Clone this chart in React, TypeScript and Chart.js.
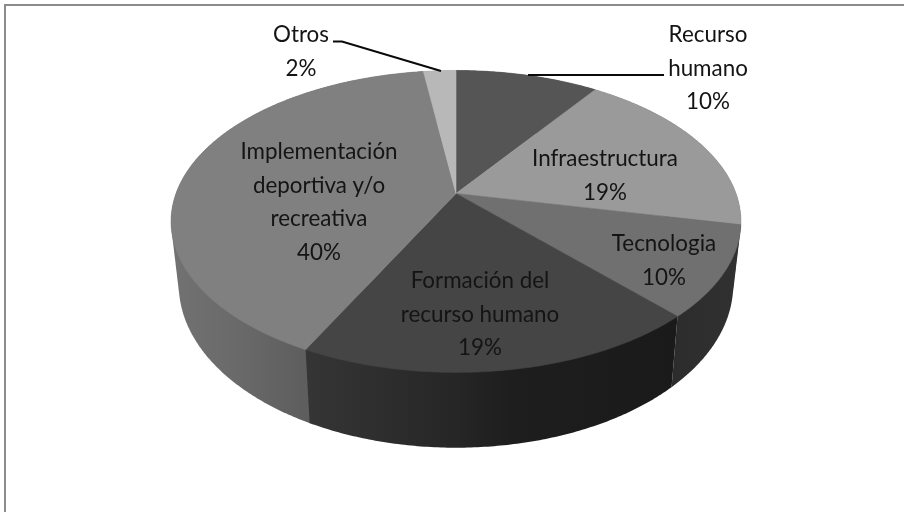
import React, { useEffect, useRef } from "react";
import { Chart, registerables } from "chart.js";

Chart.register(...registerables);

const categories = ["Recurso humano", "Infraestructura", "Tecnologia", "Formación del recurso humano", "Implementación deportiva y/o recreativa", "Otros"];
const values = [9.7, 18.6, 9.7, 19.4, 40.4, 2.2];
const percentLabels = ["10%", "19%", "10%", "19%", "40%", "2%"];
const topColors = ["#555555", "#9a9a9a", "#707070", "#454545", "#808080", "#b8b8b8"];

// Label text broken on lines the way the picture shows it, with placement
const labelLines = [["Recurso", "humano"], ["Infraestructura"], ["Tecnologia"], ["Formación del", "recurso humano"], ["Implementación", "deportiva y/o", "recreativa"], ["Otros"]];
const labelCenterX = [708, 605, 664, 480, 319, 301];
const labelFirstBaseline = [42, 166, 251, 288, 159, 42];
const LINE_STEP = 33.6;

const sideStops: [number, string][][] = [
  [[0, "#3a3a3a"], [1, "#3a3a3a"]],
  [[0, "#5a5a5a"], [1, "#5a5a5a"]],
  [[0, "#2c2c2c"], [1, "#313131"]],
  [[0, "#353535"], [0.2, "#2e2e2e"], [0.4, "#262626"], [0.55, "#1e1e1e"], [1, "#1a1a1a"]],
  [[0, "#727272"], [0.25, "#6a6a6a"], [0.52, "#5e5e5e"], [1, "#5e5e5e"]],
  [[0, "#777777"], [1, "#777777"]],
];
// back walls first, so the front walls cover them
const wallOrder = [4, 5, 0, 1, 2, 3];

// Perspective of the pie: apex, radius, foreshortening
const P = { cx: 456, cy: 193.5, R: 280, S: 145.8, k: 0.185 };
const BOTTOM = { sx: 0.973, sy: 1.08, dy: 61 };

type Pt = { x: number; y: number };
const project = (a: number): Pt => {
  const x = Math.cos(a), y = Math.sin(a);
  const w = 1 - P.k * y;
  return { x: P.cx + (P.R * x) / w, y: P.cy + (P.S * y) / w };
};
const lower = (p: Pt): Pt => ({
  x: P.cx + (p.x - P.cx) * BOTTOM.sx,
  y: P.cy + BOTTOM.dy + (p.y - P.cy) * BOTTOM.sy,
});
const rim = (a0: number, a1: number) => {
  const n = Math.max(2, Math.ceil(Math.abs(a1 - a0) / 0.01));
  return Array.from({ length: n + 1 }, (_, i) => project(a0 + ((a1 - a0) * i) / n));
};
const hull = (pts: Pt[]) => {
  const s = [...pts].sort((a, b) => a.x - b.x || a.y - b.y);
  const cross = (o: Pt, a: Pt, b: Pt) => (a.x - o.x) * (b.y - o.y) - (a.y - o.y) * (b.x - o.x);
  const half = (list: Pt[]) => {
    const h: Pt[] = [];
    list.forEach((p) => {
      while (h.length >= 2 && cross(h[h.length - 2], h[h.length - 1], p) <= 0) h.pop();
      h.push(p);
    });
    h.pop();
    return h;
  };
  return [...half(s), ...half([...s].reverse())];
};

const pie3d = {
  id: "pie3d",
  beforeDatasetDraw(chart: any, args: any) {
    const { ctx } = chart;
    const arcs = chart.getDatasetMeta(args.index).data;
    ctx.save();
    // side walls first
    wallOrder.forEach((i) => {
      const arc = arcs[i];
      const top = rim(arc.startAngle, arc.endAngle);
      const shape = hull([...top, ...top.map(lower)]);
      const xs = shape.map((p) => p.x);
      const g = ctx.createLinearGradient(Math.min(...xs), 0, Math.max(...xs), 0);
      sideStops[i].forEach(([o, c]) => g.addColorStop(o, c));
      ctx.beginPath();
      shape.forEach((p, j) => (j ? ctx.lineTo(p.x, p.y) : ctx.moveTo(p.x, p.y)));
      ctx.closePath();
      ctx.fillStyle = g;
      ctx.fill();
    });
    // then the top faces
    arcs.forEach((arc: any) => {
      const top = rim(arc.startAngle, arc.endAngle);
      ctx.beginPath();
      ctx.moveTo(P.cx, P.cy);
      top.forEach((p) => ctx.lineTo(p.x, p.y));
      ctx.closePath();
      ctx.fillStyle = arc.options.backgroundColor;
      ctx.strokeStyle = arc.options.backgroundColor;
      ctx.lineWidth = 0.6;
      ctx.fill();
      ctx.stroke();
    });
    ctx.restore();
    return false;
  },
  afterDraw(chart: any) {
    const { ctx } = chart;
    ctx.save();
    // outer frame
    ctx.strokeStyle = "#8c8c8c";
    ctx.lineWidth = 2;
    ctx.beginPath();
    ctx.moveTo(5, 512);
    ctx.lineTo(5, 5);
    ctx.lineTo(904, 5);
    ctx.stroke();
    // leader lines
    ctx.strokeStyle = "#0a0a0a";
    ctx.lineWidth = 2;
    ctx.beginPath();
    ctx.moveTo(528, 75);
    ctx.lineTo(664, 75);
    ctx.moveTo(333, 41.5);
    ctx.lineTo(342, 41.5);
    ctx.lineTo(441, 71);
    ctx.stroke();
    // labels
    ctx.fillStyle = "#141414";
    ctx.font = '22.4px Lato, "Open Sans", sans-serif';
    ctx.textAlign = "center";
    ctx.textBaseline = "alphabetic";
    categories.forEach((_, i) => {
      const lines = [...labelLines[i], percentLabels[i]];
      lines.forEach((t, j) => ctx.fillText(t, labelCenterX[i], labelFirstBaseline[i] + j * LINE_STEP));
    });
    ctx.restore();
  },
};

export default function App() {
  const ref = useRef<HTMLCanvasElement>(null);
  useEffect(() => {
    const chart = new Chart(ref.current as HTMLCanvasElement, {
      type: "pie",
      data: {
        labels: categories,
        datasets: [{ data: values, backgroundColor: topColors, borderWidth: 0 }],
      },
      options: {
        animation: false,
        responsive: false,
        plugins: { legend: { display: false }, tooltip: { enabled: false } },
      },
      plugins: [pie3d],
    } as any);
    return () => chart.destroy();
  }, []);
  return (
    <div style={{ position: "absolute", left: 0, top: 0, background: "#fff" }}>
      <canvas ref={ref} width={904} height={512} style={{ display: "block" }} />
    </div>
  );
}
